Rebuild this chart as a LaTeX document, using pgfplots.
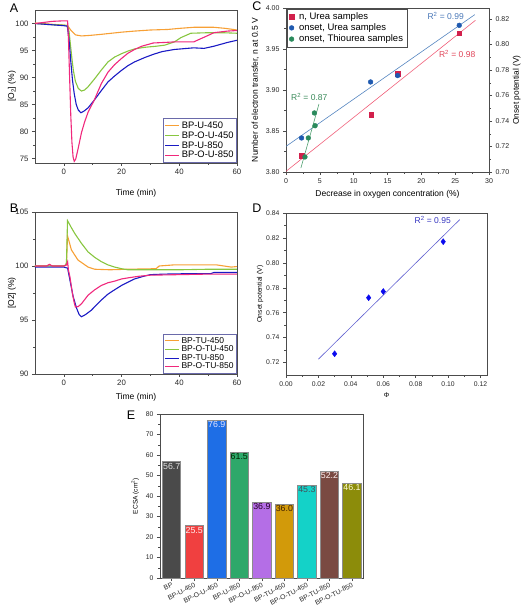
\documentclass[border=0pt]{standalone}
\usepackage{fontspec}
\setmainfont{Liberation Sans}
\usepackage{pgfplots}
\pgfplotsset{compat=1.18}
\definecolor{cOr}{HTML}{F7A035}
\definecolor{cGr}{HTML}{88C640}
\definecolor{cBl}{HTML}{1A1AC4}
\definecolor{cPk}{HTML}{F0287C}
\definecolor{cLeg}{HTML}{6A6AAA}
\definecolor{cSq}{HTML}{D2204C}
\definecolor{cCiB}{HTML}{1F5AB0}
\definecolor{cCiG}{HTML}{2A8A5C}
\definecolor{cLnB}{HTML}{5585C0}
\definecolor{cLnR}{HTML}{F0607A}
\definecolor{cLnG}{HTML}{4FA070}
\definecolor{cTxB}{HTML}{4A78B8}
\definecolor{cTxR}{HTML}{E04458}
\definecolor{cTxG}{HTML}{3A8A5A}
\definecolor{cDia}{HTML}{0A0AEE}
\definecolor{cLnD}{HTML}{6060D0}
\definecolor{cTxD}{HTML}{3535C0}
\definecolor{e1}{HTML}{4A4A4A}
\definecolor{e2}{HTML}{F04040}
\definecolor{e3}{HTML}{1E6EE6}
\definecolor{e4}{HTML}{2EA86A}
\definecolor{e5}{HTML}{B46EE6}
\definecolor{e6}{HTML}{D29A0A}
\definecolor{e7}{HTML}{14D2C8}
\definecolor{e8}{HTML}{7A4A42}
\definecolor{e9}{HTML}{8C8C0A}
\pgfplotsset{
  panel/.style={scale only axis, anchor=south west,
    axis line style={black!70, line width=0.5pt},
    tick style={black!70, line width=0.45pt},
    tick align=outside, major tick length=3pt, minor tick length=1.6pt,
    tick pos=left,
    /pgf/number format/assume math mode=true,
    tick label style={font=\fontsize{7.8}{9}\selectfont, black!85},
    label style={font=\fontsize{8.5}{10}\selectfont}},
  lgd/.style={legend cell align=left,
    legend style={draw=cLeg, line width=0.6pt,
      inner sep=1.2pt, at={(1,0)}, anchor=south east,
      /tikz/every even column/.append style={column sep=2pt}}},
}
\begin{document}
\begin{tikzpicture}
\useasboundingbox (0pt,0pt) rectangle (520pt,611pt);
% ---------------- Panel A ----------------
\begin{axis}[panel, lgd, at={(35pt,448pt)}, width=202pt, height=153pt,
  legend image code/.code={\draw[#1] (0pt,0pt) -- (14pt,0pt);},
  legend style={font=\fontsize{9.4}{10.5}\selectfont, row sep=-2.2pt},
  xmin=-10, xmax=60, ymin=74.2, ymax=102.5,
  xtick={0,20,40,60}, ytick={75,80,85,90,95,100},
  minor x tick num=1, minor y tick num=1,
  xlabel={Time (min)}, ylabel={[O\textsubscript{2}] (\%)},
  xlabel style={yshift=-7pt},
  ylabel style={at={(axis description cs:-0.114,0.5)}, anchor=center}]
\addplot[cOr, line width=1.1pt] coordinates {(-10,100.1) (-5,99.9) (0,99.7) (1.3,99.6) (2.5,98.7) (4,97.9) (6.1,97.7) (9,97.8) (13,98.0) (20,98.4) (24.5,98.6) (30,98.8) (36,98.9) (40,99.1) (45,99.3) (52,99.3) (56,99.1) (60,98.8)};
\addlegendentry{BP-U-450}
\addplot[cGr, line width=1.1pt] coordinates {(-10,100) (-5,99.8) (0,99.7) (1.3,99.6) (1.8,98.5) (2.3,96) (2.8,93.5) (3.3,91.3) (4,89.3) (5,88.0) (6.1,87.5) (7.2,87.7) (8.4,88.3) (10.7,89.8) (13,91.4) (15.3,92.9) (17.6,93.8) (19.9,94.4) (22.2,94.9) (24.5,95.3) (28,95.6) (32,95.8) (35,96.0) (38.3,96.6) (40.6,97.4) (44,98.2) (50,98.3) (55,98.3) (60,98.2)};
\addlegendentry{BP-O-U-450}
\addplot[cBl, line width=1.1pt] coordinates {(-10,100) (-5,99.8) (0,99.6) (1.2,99.5) (1.8,97) (2.4,93) (3.0,89.5) (3.6,87) (4.3,85) (5.0,84) (5.9,83.5) (7,83.8) (8.4,84.4) (10.5,85.8) (13,87.6) (15.3,89.2) (17.6,90.3) (19.9,91.3) (22.2,92.2) (24.5,92.9) (28,93.7) (31,94.3) (34,94.8) (38.3,95.2) (45,95.5) (48.6,95.4) (52,95.8) (56.7,96.5) (60,96.9)};
\addlegendentry{BP-U-850}
\addplot[cPk, line width=1.1pt] coordinates {(-10,100) (-7,100.2) (-4,100.4) (0,100.5) (1.3,100.5) (1.6,97) (2.0,90) (2.4,83) (2.8,78) (3.2,75.3) (3.6,74.5) (4.1,74.9) (5,77.0) (6.1,79.8) (7.2,81.8) (8.4,83.6) (10.5,85.8) (13,88.9) (15.3,91.0) (17.6,92.4) (19.9,93.5) (22.2,94.5) (24.5,95.2) (27,95.8) (31,96.4) (35,96.5) (38.3,96.6) (45,96.6) (47.5,97.2) (50,97.8) (52,98.3) (56.7,98.6) (60,98.7)};
\addlegendentry{BP-O-U-850}
\end{axis}
% ---------------- Panel B ----------------
\begin{axis}[panel, lgd, at={(35pt,237pt)}, width=202pt, height=162pt,
  legend image code/.code={\draw[#1] (0pt,0pt) -- (14pt,0pt);},
  legend style={font=\fontsize{8.5}{9.5}\selectfont, row sep=-2.8pt},
  xmin=-10, xmax=60, ymin=90, ymax=105,
  xtick={0,20,40,60}, ytick={90,95,100,105},
  minor x tick num=1, minor y tick num=1,
  xlabel={Time (min)}, ylabel={[O2] (\%)},
  ylabel style={at={(axis description cs:-0.114,0.5)}, anchor=center}]
\addplot[cOr, line width=1.1pt] coordinates {(-10,100) (-6,100) (-5,100.1) (-4,100) (0,100) (0.9,100.1) (1.27,102.8) (2.6,101.5) (4.9,100.55) (8.4,99.9) (10.7,99.7) (16,99.65) (22,99.7) (32,99.75) (33,100.0) (38,100.1) (53,100.1) (58,99.9) (60,99.95)};
\addlegendentry{BP-TU-450}
\addplot[cGr, line width=1.1pt] coordinates {(-10,100) (0,100) (0.6,100.1) (0.9,100.3) (1.27,104.2) (2.5,103.6) (3.8,103.0) (6.1,102.1) (8.4,101.3) (10.7,100.8) (13,100.4) (15.3,100.1) (17.6,99.9) (20,99.75) (22.2,99.65) (30,99.65) (40,99.65) (50,99.7) (60,99.7)};
\addlegendentry{BP-O-TU-450}
\addplot[cBl, line width=1.1pt] coordinates {(-10,99.9) (-5,99.9) (0,99.9) (1.3,99.8) (2.1,98.7) (3.2,97.2) (4.4,96.1) (5.3,95.5) (6.1,95.3) (7.5,95.5) (9.5,95.9) (11.3,96.4) (13,96.85) (15.3,97.4) (17.6,97.8) (20,98.2) (22.2,98.5) (24.5,98.8) (27,99.0) (30,99.2) (35,99.25) (45,99.3) (51,99.3) (52,99.4) (60,99.4)};
\addlegendentry{BP-TU-850}
\addplot[cPk, line width=1.1pt] coordinates {(-10,100) (-6,100) (-5,100.15) (-4,100) (0,100) (0.9,100.1) (1.3,100.4) (1.6,99.6) (2.1,99.0) (3.0,97.4) (3.6,96.6) (4.0,96.2) (5,96.25) (6.1,96.5) (8.4,97.3) (10.7,97.8) (13,98.2) (15.3,98.45) (17.6,98.6) (20,98.8) (22.2,98.9) (26,99.05) (30,99.15) (40,99.2) (50,99.25) (60,99.25)};
\addlegendentry{BP-O-TU-850}
\end{axis}
% ---------------- Panel C ----------------
\begin{axis}[panel, at={(286pt,439pt)}, width=203pt, height=164pt,
  xmin=0, xmax=30, ymin=3.80, ymax=4.00,
  xtick={0,5,10,15,20,25,30}, ytick={3.80,3.85,3.90,3.95,4.00},
  minor x tick num=1, minor y tick num=1,
  yticklabel style={/pgf/number format/.cd, fixed, fixed zerofill, precision=2},
  axis y line*=left,
  tick label style={font=\fontsize{7}{8}\selectfont},
  label style={font=\fontsize{8.5}{9.5}\selectfont},
  xlabel={Decrease in oxygen concentration (\%)},
  ylabel={Number of electron transfer, n at 0.5 V}]
\addplot[cLnR, line width=0.6pt] coordinates {(0,3.8008) (28.0,3.985)};
\addplot[only marks, mark=square*, mark size=2.2pt, cSq] coordinates {(2.3,3.820) (12.6,3.870) (16.5,3.920) (25.6,3.969)};
\node[font=\fontsize{8.5}{9}\selectfont, text=cTxB] at (axis cs:23.6,3.99) {R\textsuperscript{2} = 0.99};
\node[font=\fontsize{8.5}{9}\selectfont, text=cTxR] at (axis cs:25.3,3.944) {R\textsuperscript{2} = 0.98};
\node[font=\fontsize{8.5}{9}\selectfont, text=cTxG] at (axis cs:3.44,3.892) {R\textsuperscript{2} = 0.87};
\end{axis}
\begin{axis}[panel, at={(286pt,439pt)}, width=203pt, height=164pt,
  xmin=0, xmax=30, ymin=0.70, ymax=0.8286,
  axis y line*=right, axis x line=none,
  ytick pos=right, yticklabel pos=right,
  ytick={0.70,0.72,0.74,0.76,0.78,0.80,0.82}, minor y tick num=1,
  yticklabel style={/pgf/number format/.cd, fixed, fixed zerofill, precision=2},
  tick label style={font=\fontsize{7}{8}\selectfont},
  label style={font=\fontsize{8.3}{9}\selectfont},
  ylabel={Onset potential (V)},
  ylabel style={at={(axis description cs:1.136,0.5)}, anchor=center},
  legend cell align=left,
  legend image code/.code={\draw[#1] plot coordinates {(5pt,0pt)};},
  legend style={font=\fontsize{9.5}{10.5}\selectfont, draw=black!70, line width=0.4pt,
    at={(0.005,0.995)}, anchor=north west, inner xsep=2pt, inner ysep=1.5pt, row sep=-1.2pt,
    /tikz/every odd column/.append style={column sep=3pt}}]
\addlegendimage{only marks, mark=square*, mark size=2.2pt, cSq}
\addlegendentry{n, Urea samples}
\addplot[cLnB, line width=0.6pt, forget plot] coordinates {(0,0.7201) (27.9,0.8234)};
\addplot[cLnG, line width=0.6pt, forget plot] coordinates {(2.2,0.7031) (4.87,0.7533)};
\addplot[only marks, mark=*, mark size=2.4pt, cCiB] coordinates {(2.3,0.7267) (12.5,0.7706) (16.5,0.7756) (25.6,0.815)};
\addlegendentry{onset, Urea samples}
\addplot[only marks, mark=*, mark size=2.4pt, cCiG] coordinates {(2.8,0.7118) (3.3,0.7267) (4.2,0.7463) (4.3,0.7363)};
\addlegendentry{onset, Thiourea samples}
\end{axis}
% ---------------- Panel D ----------------
\begin{axis}[panel, at={(286pt,236pt)}, width=201pt, height=162pt,
  xmin=0, xmax=0.124, ymin=0.71, ymax=0.84,
  xtick={0,0.02,0.04,0.06,0.08,0.10,0.12},
  ytick={0.72,0.74,0.76,0.78,0.80,0.82,0.84},
  minor x tick num=1, minor y tick num=1,
  xticklabel style={/pgf/number format/.cd, fixed, fixed zerofill, precision=2},
  yticklabel style={/pgf/number format/.cd, fixed, fixed zerofill, precision=2},
  scaled x ticks=false, scaled y ticks=false,
  tick label style={font=\fontsize{6.8}{8}\selectfont},
  label style={font=\fontsize{6.8}{8}\selectfont},
  xlabel={Φ}, ylabel={Onset potential (V)},
  ylabel style={at={(axis description cs:-0.129,0.5)}, anchor=center}]
\addplot[cLnD, line width=0.6pt] coordinates {(0.020,0.7227) (0.1072,0.8347)};
\addplot[only marks, mark=diamond*, mark size=3pt, cDia] coordinates {(0.030,0.727) (0.051,0.772) (0.060,0.777) (0.097,0.817)};
\node[font=\fontsize{8.5}{9}\selectfont, text=cTxD] at (axis cs:0.0905,0.8345) {R\textsuperscript{2} = 0.95};
\end{axis}
% ---------------- Panel E ----------------
\begin{axis}[panel, at={(160pt,33pt)}, width=203pt, height=164pt,
  xmin=-0.52, xmax=8.49, ymin=0, ymax=80,
  ytick={0,10,20,30,40,50,60,70,80}, minor y tick num=1,
  xtick={0,1,2,3,4,5,6,7,8},
  xticklabels={BP,BP-U-450,BP-O-U-450,BP-U-850,BP-O-U-850,BP-TU-450,BP-O-TU-450,BP-TU-850,BP-O-TU-850},
  xticklabel style={rotate=27, anchor=north east, inner sep=1pt, font=\fontsize{6.8}{7}\selectfont},
  yticklabel style={font=\fontsize{6.8}{7}\selectfont},
  label style={font=\fontsize{6.6}{7}\selectfont},
  ylabel={ECSA (cm\textsuperscript{2})},
  ybar=0pt, bar width=18.3pt, bar shift=0pt,
  nodes near coords={\pgfmathprintnumber[fixed,fixed zerofill,precision=1]{\pgfplotspointmeta}},
  nodes near coords align={below},
  every node near coord/.append style={font=\fontsize{8.8}{9}\selectfont, inner sep=0.8pt}]
\addplot[fill=e1, draw=black!45, line width=0.8pt, bar shift=0pt, every node near coord/.append style={text=black!12}] coordinates {(0,56.7)};
\addplot[fill=e2, draw=black!45, line width=0.8pt, bar shift=0pt, every node near coord/.append style={text=red!8}] coordinates {(1,25.5)};
\addplot[fill=e3, draw=black!45, line width=0.8pt, bar shift=0pt, every node near coord/.append style={text=blue!10}] coordinates {(2,76.9)};
\addplot[fill=e4, draw=black!45, line width=0.8pt, bar shift=0pt, every node near coord/.append style={text=black!85!green}] coordinates {(3,61.5)};
\addplot[fill=e5, draw=black!45, line width=0.8pt, bar shift=0pt, every node near coord/.append style={text=black!70!violet}] coordinates {(4,36.9)};
\addplot[fill=e6, draw=black!45, line width=0.8pt, bar shift=0pt, every node near coord/.append style={text=black!75!orange}] coordinates {(5,36.0)};
\addplot[fill=e7, draw=black!45, line width=0.8pt, bar shift=0pt, every node near coord/.append style={text=black!75!cyan}] coordinates {(6,45.3)};
\addplot[fill=e8, draw=black!45, line width=0.8pt, bar shift=0pt, every node near coord/.append style={text=red!5}] coordinates {(7,52.2)};
\addplot[fill=e9, draw=black!45, line width=0.8pt, bar shift=0pt, every node near coord/.append style={text=yellow!15}] coordinates {(8,46.1)};
\end{axis}
% ---------------- Panel letters ----------------
\node[font=\fontsize{12.5}{13}\selectfont] at (14pt,603pt) {A};
\node[font=\fontsize{12.5}{13}\selectfont] at (14pt,403pt) {B};
\node[font=\fontsize{12.5}{13}\selectfont] at (257pt,605pt) {C};
\node[font=\fontsize{12.5}{13}\selectfont] at (257pt,403pt) {D};
\node[font=\fontsize{12.5}{13}\selectfont] at (131pt,196pt) {E};
\end{tikzpicture}
\end{document}
